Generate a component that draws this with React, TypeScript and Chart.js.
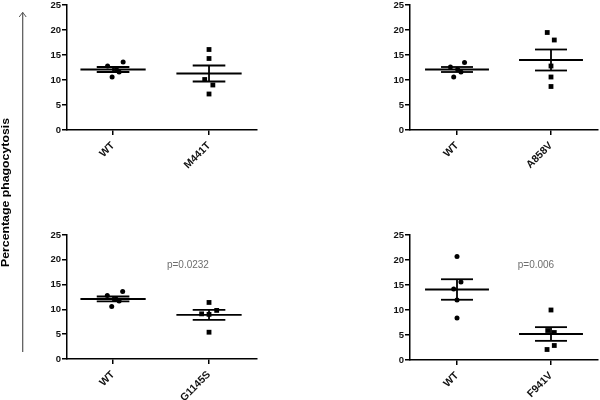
import React, { useEffect, useRef } from "react";
import { Chart, registerables } from "chart.js";

Chart.register(...registerables);

const FONT = "'Liberation Sans', Arial, Helvetica, sans-serif";

// ---------- data ----------
const yTickStep = 5;
const yMin = 0;
const yMax = 25;
const yTitle = "Percentage phagocytosis";

// Panel A (top-left)
const catsA = ["WT", "M441T"];
const wtA = [12.8, 12.1, 11.6, 10.6, 13.6];
const mutA = [16.1, 14.3, 10.1, 9.0, 7.2];
const meanA = [12.1, 11.3];
const semA = [0.5, 1.6];
const jitWtA = [-0.057, 0.035, 0.063, -0.01, 0.105];
const jitMutA = [0, 0, -0.045, 0.04, 0];

// Panel B (top-right)
const catsB = ["WT", "A858V"];
const wtB = [12.6, 12.1, 11.6, 10.6, 13.5];
const mutB = [19.5, 18.0, 12.8, 10.6, 8.7];
const meanB = [12.1, 14.0];
const semB = [0.5, 2.1];
const jitWtB = [-0.07, 0.007, 0.042, -0.035, 0.08];
const jitMutB = [-0.04, 0.035, 0, 0, 0];

// Panel C (bottom-left)
const catsC = ["WT", "G1145S"];
const wtC = [12.8, 12.1, 11.7, 10.6, 13.6];
const mutC = [11.4, 9.1, 9.0, 9.8, 5.4];
const meanC = [12.1, 8.9];
const semC = [0.5, 1.0];
const jitWtC = [-0.06, 0.03, 0.063, -0.014, 0.1];
const jitMutC = [0, -0.077, 0, 0.08, 0];
const pTextC = "p=0.0232";

// Panel D (bottom-right)
const catsD = ["WT", "F941V"];
const wtD = [20.7, 15.6, 14.2, 12.0, 8.4];
const mutD = [10.0, 5.9, 5.5, 2.9, 2.1];
const meanD = [14.1, 5.2];
const semD = [2.05, 1.37];
const jitWtD = [0, 0.042, -0.035, 0, 0];
const jitMutD = [0, -0.035, 0.035, 0.035, -0.042];
const pTextD = "p=0.006";

// ---------- layout ----------
const LEFT = 60;
const TOPPAD = 12;
const RIGHTPAD = 6;
const BOTTOM = 60;

type Spec = {
  cats: string[];
  groups: number[][];
  jitter: number[][];
  mean: number[];
  sem: number[];
  p?: { text: string; x: number; y: number };
  area: { L: number; T: number; R: number; B: number };
  xMin: number;
  xMax: number;
};

const panels: Spec[] = [
  {
    cats: catsA, groups: [wtA, mutA], jitter: [jitWtA, jitMutA], mean: meanA, sem: semA,
    area: { L: 67, T: 5, R: 256.5, B: 129.5 }, xMin: 0.52, xMax: 2.5,
  },
  {
    cats: catsB, groups: [wtB, mutB], jitter: [jitWtB, jitMutB], mean: meanB, sem: semB,
    area: { L: 410, T: 5, R: 598, B: 129.7 }, xMin: 0.5, xMax: 2.5,
  },
  {
    cats: catsC, groups: [wtC, mutC], jitter: [jitWtC, jitMutC], mean: meanC, sem: semC,
    p: { text: pTextC, x: 1.78, y: 19 },
    area: { L: 66.7, T: 235, R: 256.7, B: 359.3 }, xMin: 0.52, xMax: 2.5,
  },
  {
    cats: catsD, groups: [wtD, mutD], jitter: [jitWtD, jitMutD], mean: meanD, sem: semD,
    p: { text: pTextD, x: 1.84, y: 19 },
    area: { L: 410, T: 235.3, R: 597.7, B: 360 }, xMin: 0.5, xMax: 2.5,
  },
];

const pLabelPlugin = {
  id: "pLabel",
  afterDraw(chart: any, _args: any, opts: any) {
    if (!opts || !opts.text) return;
    const ctx = chart.ctx;
    const xs = chart.scales.x;
    const ys = chart.scales.y;
    ctx.save();
    ctx.font = `10px ${FONT}`;
    ctx.fillStyle = "#6e6e6e";
    ctx.textAlign = "center";
    ctx.textBaseline = "middle";
    ctx.fillText(opts.text, xs.getPixelForValue(opts.x), ys.getPixelForValue(opts.y));
    ctx.restore();
  },
};

function buildConfig(p: Spec): any {
  const datasets: any[] = [];
  const lineDs = (pts: { x: number; y: number }[]) => ({
    data: pts,
    showLine: true,
    borderColor: "#000",
    borderWidth: 1.8,
    pointRadius: 0,
    fill: false,
    order: 0,
  });
  p.groups.forEach((vals, gi) => {
    const cx = gi + 1;
    datasets.push({
      data: vals.map((v, i) => ({ x: cx + p.jitter[gi][i], y: v })),
      pointStyle: gi === 0 ? "circle" : "rect",
      pointRadius: gi === 0 ? 2.5 : 3.4,
      backgroundColor: "#000",
      borderColor: "#000",
      borderWidth: 0,
      showLine: false,
      order: 1,
    });
    const m = p.mean[gi];
    const s = p.sem[gi];
    datasets.push(lineDs([{ x: cx - 0.34, y: m }, { x: cx + 0.34, y: m }]));
    datasets.push(lineDs([{ x: cx - 0.17, y: m + s }, { x: cx + 0.17, y: m + s }]));
    datasets.push(lineDs([{ x: cx - 0.17, y: m - s }, { x: cx + 0.17, y: m - s }]));
    datasets.push(lineDs([{ x: cx, y: m - s }, { x: cx, y: m + s }]));
  });

  const axisCommon = {
    grid: {
      display: true,
      drawOnChartArea: false,
      drawTicks: true,
      tickLength: 5,
      color: "#000",
      lineWidth: 1.5,
    },
    border: { display: true, color: "#000", width: 1.5 },
  };

  return {
    type: "scatter",
    data: { datasets },
    plugins: [pLabelPlugin],
    options: {
      animation: false,
      responsive: false,
      devicePixelRatio: 1,
      layout: { padding: { left: 0, top: TOPPAD, right: RIGHTPAD, bottom: 0 } },
      plugins: {
        legend: { display: false },
        tooltip: { enabled: false },
        pLabel: p.p ? { ...p.p } : {},
      },
      scales: {
        x: {
          type: "linear",
          min: p.xMin,
          max: p.xMax,
          ...axisCommon,
          afterBuildTicks: (axis: any) => {
            axis.ticks = p.cats.map((_, i) => ({ value: i + 1 }));
          },
          afterFit: (s: any) => {
            s.height = BOTTOM;
          },
          ticks: {
            autoSkip: false,
            minRotation: 45,
            maxRotation: 45,
            padding: 4.5,
            color: "#111",
            font: { family: FONT, size: 10.5, weight: "bold" },
            callback: (v: any) => p.cats[Math.round(v) - 1] ?? "",
          },
        },
        y: {
          type: "linear",
          min: yMin,
          max: yMax,
          ...axisCommon,
          afterFit: (s: any) => {
            s.width = LEFT;
          },
          ticks: {
            stepSize: yTickStep,
            padding: 1,
            color: "#111",
            font: { family: FONT, size: 9.5, weight: "bold" },
          },
        },
      },
    },
  };
}

function Panel({ spec }: { spec: Spec }) {
  const ref = useRef<HTMLCanvasElement>(null);
  const { L, T, R, B } = spec.area;
  const w = Math.round(R - L + LEFT + RIGHTPAD);
  const h = Math.round(B - T + TOPPAD + BOTTOM);
  const left = L - LEFT;
  const top = T - TOPPAD;
  useEffect(() => {
    if (!ref.current) return;
    const chart = new Chart(ref.current, buildConfig(spec));
    return () => chart.destroy();
  }, [spec]);
  return (
    <canvas
      ref={ref}
      width={w}
      height={h}
      style={{ position: "absolute", left, top, width: w, height: h }}
    />
  );
}

export default function App() {
  return (
    <div
      style={{
        position: "fixed",
        left: 0,
        top: 0,
        width: 600,
        height: 400,
        background: "#fff",
        overflow: "hidden",
      }}
    >
      {panels.map((p, i) => (
        <Panel key={i} spec={p} />
      ))}
      <svg
        width={600}
        height={400}
        style={{ position: "absolute", left: 0, top: 0, pointerEvents: "none" }}
      >
        <line x1={22.7} y1={12.5} x2={22.7} y2={352} stroke="#555" strokeWidth={1.2} />
        <polyline
          points="19.2,17 22.7,12.3 26.2,17"
          fill="none"
          stroke="#555"
          strokeWidth={1}
        />
        <text
          x={8.5}
          y={192.5}
          transform="rotate(-90 8.5 192.5)"
          textAnchor="middle"
          textLength={149}
          lengthAdjust="spacingAndGlyphs"
          style={{ font: `bold 11px ${FONT}`, fill: "#000" }}
        >
          {yTitle}
        </text>
      </svg>
    </div>
  );
}
